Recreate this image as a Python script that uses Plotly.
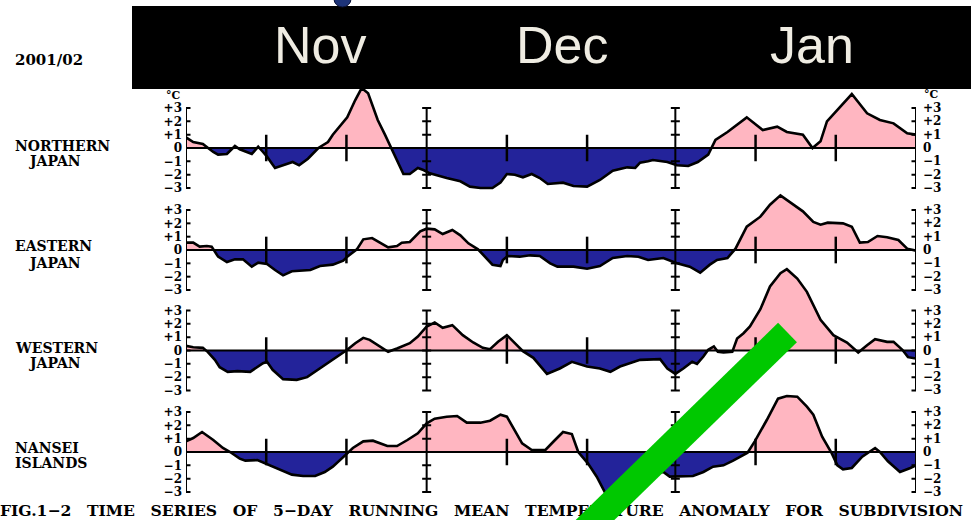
import plotly.graph_objects as go

# ---------------- DATA (day index: 0 = 1 Nov 2001, 91 = 31 Jan 2002) ----------------
north_day = [0, 0.9, 2.1, 3.4, 4.0, 5.1, 6.1, 6.7, 8.2, 9.0, 9.6, 10.1, 11.1, 12.1, 13.3, 14.1, 15.2, 16.5,
             17.7, 18.3, 20.1, 21.1, 21.9, 22.7, 23.9, 24.8, 25.7, 26.4, 27.1, 27.9, 28.9, 29.6, 30.4, 32.5,
             34.2, 35.4, 36.7, 38.2, 39.2, 40.0, 41.0, 42.0, 43.1, 44.1, 45.1, 47.0, 48.3, 50.0, 51.6, 53.2,
             55.0, 56.0, 56.6, 57.6, 58.2, 60.0, 61.2, 62.6, 63.8, 65.1, 66.0, 67.5, 69.9, 71.9, 73.7, 74.9,
             76.9, 78.1, 79.1, 79.9, 81.5, 83.0, 84.9, 86.5, 88.2, 89.9, 91]
north_val = [0.8, 0.45, 0.3, -0.3, -0.5, -0.45, 0.15, -0.1, -0.45, 0.1, -0.3, -0.65, -1.5, -1.3, -1.05, -1.3,
             -0.8, 0.0, 0.45, 1.0, 2.3, 3.6, 4.5, 4.1, 2.1, 1.0, -0.15, -1.15, -1.95, -1.95, -1.5, -1.65, -1.9,
             -2.25, -2.5, -2.9, -3.0, -3.0, -2.6, -1.95, -2.0, -2.2, -1.95, -2.25, -2.7, -2.6, -2.85, -2.9,
             -2.4, -1.7, -1.45, -1.5, -1.1, -1.0, -0.9, -1.05, -1.3, -1.35, -1.05, -0.5, 0.6, 1.2, 2.3, 1.35,
             1.6, 1.2, 1.0, 0.0, 0.5, 2.0, 3.1, 4.05, 2.6, 2.1, 1.85, 1.1, 1.0]

east_day = [0, 0.9, 1.7, 2.6, 3.2, 3.6, 4.0, 5.1, 6.1, 7.1, 8.2, 9.0, 10.1, 11.1, 12.1, 13.2, 15.5, 16.7,
            18.3, 19.6, 20.1, 21.3, 22.1, 23.2, 24.2, 25.2, 26.3, 26.9, 27.9, 29.2, 30.0, 31.0, 32.0, 33.2,
            34.2, 35.2, 36.4, 37.3, 38.2, 39.2, 39.5, 40.1, 41.6, 42.9, 44.1, 45.4, 46.3, 48.3, 50.0, 51.6,
            53.2, 55.0, 56.4, 57.6, 59.5, 61.2, 62.8, 64.1, 65.3, 66.2, 67.5, 68.5, 69.9, 71.6, 72.8, 74.1,
            75.7, 76.9, 78.2, 79.1, 80.0, 81.9, 83.0, 84.0, 85.0, 86.2, 87.4, 88.8, 89.9, 91]
east_val = [0.55, 0.55, 0.25, 0.3, 0.25, -0.1, -0.5, -0.9, -0.7, -0.7, -1.25, -0.95, -1.05, -1.5, -1.9, -1.6,
            -1.5, -1.2, -1.1, -0.8, -0.5, 0.05, 0.8, 0.9, 0.55, 0.2, 0.3, 0.55, 0.6, 1.4, 1.6, 1.55, 1.2, 1.5,
            1.1, 0.5, 0.05, -0.5, -1.1, -1.2, -0.75, -0.45, -0.5, -0.4, -0.45, -1.0, -1.25, -1.25, -1.4, -1.2,
            -0.6, -0.45, -0.5, -0.75, -0.6, -1.0, -1.25, -1.7, -1.1, -0.75, -0.6, 0.1, 1.75, 2.5, 3.4, 4.1,
            3.4, 2.9, 2.1, 1.9, 2.05, 2.0, 1.75, 0.55, 0.6, 1.05, 0.95, 0.75, 0.1, -0.05]

west_day = [0, 0.9, 2.1, 2.7, 3.6, 4.2, 5.2, 6.4, 8.0, 8.9, 9.6, 10.1, 10.8, 12.1, 13.8, 15.1, 16.7, 18.3,
            20.1, 21.1, 22.1, 22.9, 24.2, 25.2, 26.3, 27.9, 28.9, 30.0, 31.0, 32.0, 33.2, 34.5, 35.8, 37.0,
            37.9, 38.9, 40.0, 41.0, 42.0, 43.3, 45.0, 46.6, 48.1, 50.0, 51.6, 52.9, 54.1, 56.6, 59.1, 60.0,
            61.0, 62.0, 63.1, 63.7, 64.5, 65.1, 65.8, 66.3, 67.0, 68.1, 68.7, 69.5, 70.3, 71.6, 72.8, 74.1,
            74.9, 76.2, 77.4, 79.1, 80.7, 82.4, 83.8, 84.9, 85.9, 87.4, 88.2, 89.3, 90.0, 91]
west_val = [0.35, 0.25, 0.2, -0.1, -0.7, -1.25, -1.6, -1.55, -1.6, -1.2, -0.95, -0.85, -1.45, -2.15, -2.2,
            -2.0, -1.35, -0.7, 0.05, 0.55, 0.95, 0.8, 0.3, -0.1, 0.15, 0.55, 1.05, 1.8, 2.1, 1.7, 1.9, 1.15,
            0.6, 0.2, 0.1, 0.65, 1.15, 0.55, -0.05, -0.55, -1.75, -1.35, -0.85, -1.2, -1.35, -1.6, -1.2, -0.7,
            -0.65, -1.35, -1.75, -1.35, -0.85, -1.0, -0.45, 0.05, 0.3, -0.1, -0.15, -0.1, 0.9, 1.3, 1.8, 3.1,
            4.8, 5.8, 6.1, 5.4, 4.4, 2.3, 1.15, 0.6, -0.15, 0.4, 0.85, 0.65, 0.65, 0.05, -0.5, -0.6]

nansei_day = [0, 0.9, 2.0, 3.4, 4.6, 5.5, 6.7, 7.4, 8.9, 10.1, 11.7, 13.2, 14.6, 16.1, 17.3, 18.3, 20.1, 20.8,
              22.1, 23.3, 25.1, 26.3, 27.6, 28.9, 30.0, 31.0, 32.5, 33.8, 35.0, 36.7, 37.9, 39.2, 40.0, 40.8,
              41.9, 43.1, 44.8, 46.0, 47.0, 48.1, 48.9, 50.1, 51.2, 52.2, 53.5, 55.0, 56.7, 57.9, 59.5, 60.3,
              62.0, 63.2, 64.5, 65.7, 67.0, 68.2, 70.0, 70.9, 72.4, 73.8, 74.9, 76.2, 77.4, 78.2, 79.3, 80.5,
              81.2, 81.9, 83.0, 84.3, 85.9, 86.5, 87.5, 89.0, 90.3, 91]
nansei_val = [0.8, 1.05, 1.5, 0.9, 0.3, 0.0, -0.5, -0.65, -0.6, -0.9, -1.35, -1.7, -1.8, -1.8, -1.5, -1.1,
              -0.1, 0.3, 0.8, 0.85, 0.45, 0.45, 0.9, 1.4, 2.15, 2.5, 2.65, 2.7, 2.2, 2.2, 2.35, 2.8, 2.65, 1.8,
              0.65, 0.15, 0.15, 0.9, 1.5, 1.35, 0.0, -0.85, -1.85, -3.0, -3.1, -2.6, -2.0, -1.7, -1.5, -1.85,
              -1.85, -1.8, -1.5, -1.1, -1.0, -0.65, -0.05, 0.8, 2.4, 4.0, 4.2, 4.15, 3.4, 2.8, 1.15, -0.1,
              -1.0, -1.3, -1.2, -0.35, 0.3, 0.0, -0.7, -1.5, -1.2, -1.0]

region_lines = [["NORTHERN", "JAPAN"], ["EASTERN", "JAPAN"], ["WESTERN", "JAPAN"], ["NANSEI", "ISLANDS"]]
series = [(north_day, north_val), (east_day, east_val), (west_day, west_val), (nansei_day, nansei_val)]
month_labels = ["Nov", "Dec", "Jan"]
month_bounds = [0, 30, 61, 91]          # day index of axis lines (1 Nov, 1 Dec, 1 Jan, 31 Jan)
minor_ticks = [10, 20, 40, 50, 71, 81]  # 11th and 21st of each month
tick_vals = [-3, -2, -1, 0, 1, 2, 3]
tick_text = ["\u22123", "\u22122", "\u22121", "0", "+1", "+2", "+3"]
year_label = "2001/02"
caption = "FIG.1\u22122 TIME SERIES OF 5\u2212DAY RUNNING MEAN TEMPERATURE ANOMALY FOR SUBDIVISION"

# ---------------- LAYOUT CONSTANTS ----------------
W, H = 971, 520
X_LEFT, X_RIGHT = 186, 916
PX_PER_UNIT = 13.33
ZERO_PX = [148, 250, 350.5, 452]
Y_RANGES = [(-3.3, 4.9), (-3.3, 4.5), (-3.3, 6.6), (-3.3, 4.6)]
LABEL_Y = [(146, 161), (246, 262.5), (347.5, 362.5), (447.7, 462.7)]
PINK = "#FFB6C1"
BLUE = "#23239A"
SERIF = "DejaVu Serif"


def px(xp):
    return xp / W


def py(yp):
    return 1 - yp / H


def split_signs(days, vals):
    xs, ys = [], []
    for i, (d, v) in enumerate(zip(days, vals)):
        if i > 0:
            v0, d0 = vals[i - 1], days[i - 1]
            if v0 * v < 0:
                t = v0 / (v0 - v)
                xs.append(d0 + t * (d - d0))
                ys.append(0.0)
        xs.append(d)
        ys.append(v)
    return xs, [max(y, 0) for y in ys], [min(y, 0) for y in ys]


fig = go.Figure()
shapes = []
annotations = []
lab_font = dict(family=SERIF, size=14, color="black", weight="bold")
tick_font = dict(family=SERIF, size=12, color="black", weight="bold")

for k, (days, vals) in enumerate(series):
    yname = "y" if k == 0 else f"y{k + 1}"
    xs, pos, neg = split_signs(days, vals)
    fig.add_trace(go.Scatter(x=xs, y=pos, xaxis="x", yaxis=yname, mode="lines", fill="tozeroy",
                             fillcolor=PINK, line=dict(width=0, color=PINK), hoverinfo="skip"))
    fig.add_trace(go.Scatter(x=xs, y=neg, xaxis="x", yaxis=yname, mode="lines", fill="tozeroy",
                             fillcolor=BLUE, line=dict(width=0, color=BLUE), hoverinfo="skip"))
    fig.add_trace(go.Scatter(x=days, y=vals, xaxis="x", yaxis=yname, mode="lines",
                             line=dict(width=2.6, color="black"), hoverinfo="skip"))

    lo, hi = Y_RANGES[k]
    z = ZERO_PX[k]
    bottom_px = z - lo * PX_PER_UNIT
    top_px = z - hi * PX_PER_UNIT
    axkey = "yaxis" if k == 0 else f"yaxis{k + 1}"
    fig.layout[axkey] = dict(domain=[py(bottom_px), py(top_px)], range=[lo, hi], anchor="x",
                             tickvals=tick_vals, ticktext=tick_text, ticks="", showgrid=False,
                             zeroline=False, showline=False, automargin=False, fixedrange=True,
                             ticklabelstandoff=3, tickfont=tick_font)

    # zero line
    shapes.append(dict(type="line", xref="x", yref=yname, x0=0, x1=91, y0=0, y1=0,
                       line=dict(color="black", width=2), layer="above"))
    # vertical axes with crossing ticks
    for d in month_bounds:
        shapes.append(dict(type="line", xref="x", yref=yname, x0=d, x1=d, y0=-3, y1=3,
                           line=dict(color="black", width=2), layer="above"))
        for v in tick_vals:
            shapes.append(dict(type="line", xref="x", yref=yname, xsizemode="pixel", xanchor=d,
                               x0=-4.5, x1=4.5, y0=v, y1=v,
                               line=dict(color="black", width=2), layer="above"))
    # minor day ticks
    for d in minor_ticks:
        shapes.append(dict(type="line", xref="x", yref=yname, x0=d, x1=d, y0=-1, y1=1,
                           line=dict(color="black", width=2.5), layer="above"))
    # right-side tick labels
    for v, t in zip(tick_vals, tick_text):
        annotations.append(dict(text=t, xref="paper", yref=yname, x=px(921), y=v, xanchor="left",
                                yanchor="middle", showarrow=False, font=tick_font))
    # region labels
    l1, l2 = region_lines[k]
    annotations.append(dict(text=l1, xref="paper", yref="paper", x=px(13), y=py(LABEL_Y[k][0]),
                            xanchor="left", yanchor="middle", showarrow=False, font=lab_font))
    x2 = 26 if l2 == "JAPAN" else 13
    annotations.append(dict(text=l2, xref="paper", yref="paper", x=px(x2), y=py(LABEL_Y[k][1]),
                            xanchor="left", yanchor="middle", showarrow=False, font=lab_font))

# degree C labels
for xp, anchor, yp in [(183, "right", 95), (922, "left", 94)]:
    annotations.append(dict(text="\u00b0C", xref="paper", yref="paper", x=px(xp), y=py(yp),
                            xanchor=anchor, yanchor="middle", showarrow=False,
                            font=dict(family=SERIF, size=11, color="black", weight="bold")))

annotations.append(dict(text=year_label, xref="paper", yref="paper", x=px(13), y=py(60),
                        xanchor="left", yanchor="middle", showarrow=False,
                        font=dict(family=SERIF, size=15, color="black", weight="bold")))

# black banner with month names
shapes.append(dict(type="rect", xref="paper", yref="paper", x0=px(132), x1=1.01, y0=py(89), y1=py(6),
                   fillcolor="black", line=dict(width=0), layer="above"))
shapes.append(dict(type="circle", xref="paper", yref="paper", x0=px(334), x1=px(351), y0=py(7), y1=py(-9),
                   fillcolor="#1E3478", line=dict(width=1, color="#0B1236"), layer="above"))
for lab, xc in zip(month_labels, [320, 562, 812]):
    annotations.append(dict(text=lab, xref="paper", yref="paper", x=px(xc), y=py(45),
                            xanchor="center", yanchor="middle", showarrow=False,
                            font=dict(family="Liberation Sans, Arial", size=52, color="#EFECE2")))

# caption as a text trace (inside its own full-page axes) so the green stroke can cover it
fig.add_trace(go.Scatter(x=[0.0], y=[py(512)], xaxis="x2", yaxis="y5", mode="text",
                         text=[caption.replace(" ", "\u2003")], textposition="middle right",
                         cliponaxis=False, hoverinfo="skip",
                         textfont=dict(family=SERIF, size=15.6, color="black", weight="bold")))

# green diagonal stroke on top
shapes.append(dict(type="line", xref="paper", yref="paper", x0=px(574.5), y0=py(540),
                   x1=px(787.5), y1=py(332.5), line=dict(color="#00C800", width=27), layer="above"))

fig.update_layout(
    width=W, height=H, template="none", showlegend=False, hovermode=False,
    margin=dict(l=0, r=0, t=0, b=0), paper_bgcolor="white", plot_bgcolor="rgba(0,0,0,0)",
    xaxis=dict(domain=[px(X_LEFT), px(X_RIGHT)], range=[0, 91], visible=False, fixedrange=True),
    xaxis2=dict(domain=[0, 1], range=[0, 1], visible=False, anchor="y5", fixedrange=True),
    yaxis5=dict(domain=[0, 1], range=[0, 1], visible=False, anchor="x2", fixedrange=True),
    shapes=shapes, annotations=annotations,
)

fig.write_html("out.html", config={"displayModeBar": False},
               post_script="document.body.style.margin='0';")
